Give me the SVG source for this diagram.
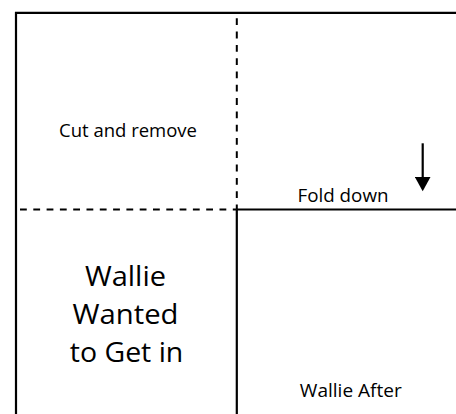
<svg xmlns="http://www.w3.org/2000/svg" width="456" height="414" viewBox="0 0 456 414">
  <style>
    .edge { stroke: #000; stroke-width: 2.2; fill: none; }
    .dash { stroke: #000; stroke-width: 2; fill: none; stroke-dasharray: 6.8 6.5; }
    .lbl { font-family: "Open Sans", "Noto Sans", "Liberation Sans", sans-serif; fill: #000; }
    .sm { font-size: 19px; }
    .lg { font-size: 28px; }
  </style>
  <defs>
    <marker id="arrowhead" markerUnits="userSpaceOnUse" markerWidth="16" markerHeight="16" viewBox="0 0 16 16" refX="3" refY="8" orient="auto">
      <path d="M0,0.2 L14.3,8 L0,15.8 z" fill="#000"/>
    </marker>
  </defs>
  <rect width="456" height="414" fill="#fff"/>

  <g id="connectors">
    <path class="edge" d="M16,414 V12.8 H456"/>
    <path class="dash" d="M236.8,18.3 V209.5"/>
    <path class="dash" d="M20,209.5 H236.8"/>
    <path class="edge" d="M236.8,209.5 H456"/>
    <path class="edge" d="M236.8,209.5 V414"/>
    <path class="edge" d="M422.7,143.3 V180" stroke-width="2" marker-end="url(#arrowhead)"/>
  </g>

  <g id="cut-panel">
    <text class="lbl sm" x="59" y="136.7" textLength="138" lengthAdjust="spacingAndGlyphs">Cut and remove</text>
  </g>
  <g id="fold-panel">
    <text class="lbl sm" x="297.5" y="201.7" textLength="91" lengthAdjust="spacingAndGlyphs">Fold down</text>
  </g>
  <g id="wanted-panel">
    <text class="lbl lg" x="85" y="286" textLength="81" lengthAdjust="spacingAndGlyphs">Wallie</text>
    <text class="lbl lg" x="72.5" y="324" textLength="106" lengthAdjust="spacingAndGlyphs">Wanted</text>
    <text class="lbl lg" x="69.8" y="361.7" textLength="113.5" lengthAdjust="spacingAndGlyphs">to Get in</text>
  </g>
  <g id="after-panel">
    <text class="lbl sm" x="299.8" y="397.3" textLength="102" lengthAdjust="spacingAndGlyphs">Wallie After</text>
  </g>
</svg>
